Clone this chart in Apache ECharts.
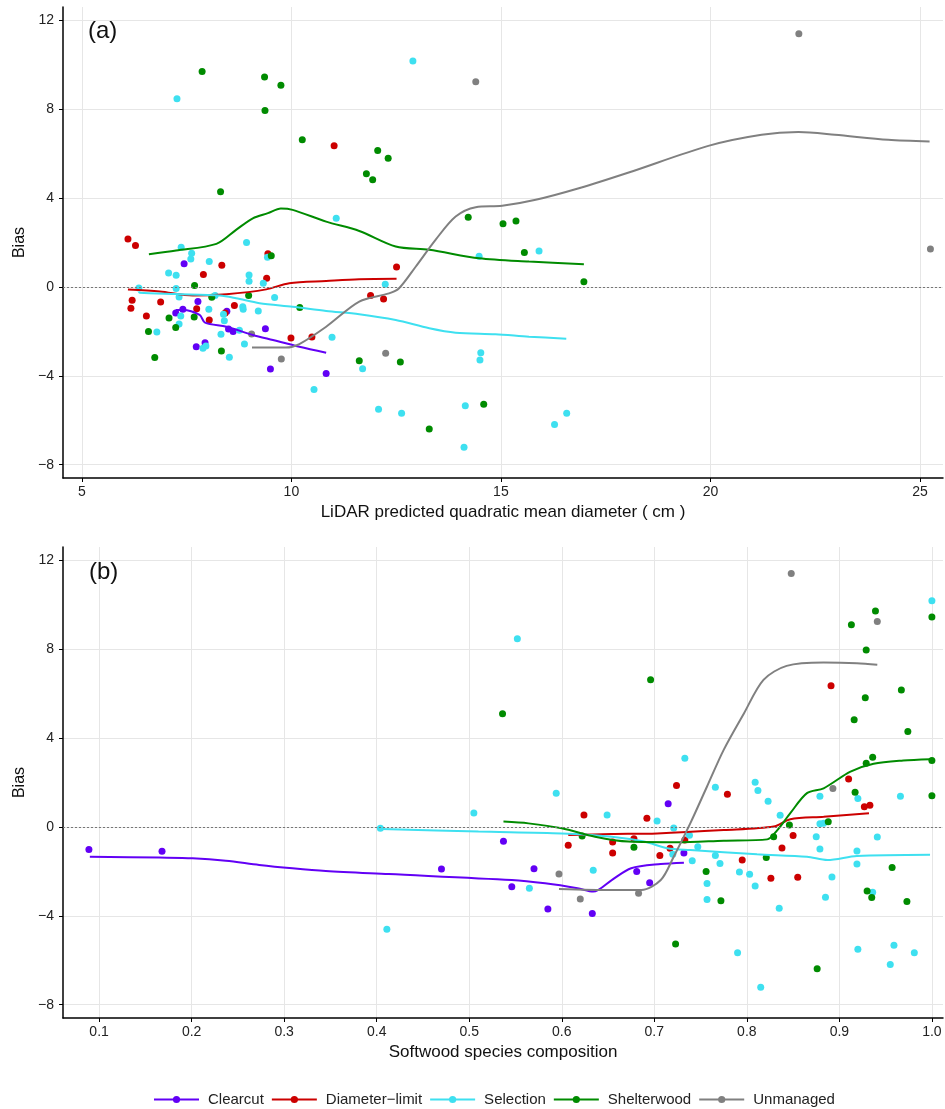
<!DOCTYPE html>
<html>
<head>
<meta charset="utf-8">
<script src="https://cdn.jsdelivr.net/npm/echarts@6/dist/echarts.min.js"></script>
<style>
  html, body { margin: 0; padding: 0; background: #fff; }
  #chart { width: 945px; height: 1109px; }
</style>
</head>
<body>
<div id="chart"></div>
<script>
// groups and colours
const groups = ["Clearcut", "Diameter\u2212limit", "Selection", "Shelterwood", "Unmanaged"];
const colors = ["#6200f5", "#cc0000", "#3ee0f0", "#008b00", "#808080"];

// tick values
const aTicksX = [5, 10, 15, 20, 25];
const bTicksX = [0.1, 0.2, 0.3, 0.4, 0.5, 0.6, 0.7, 0.8, 0.9, 1.0];
const ticksY = [-8, -4, 0, 4, 8, 12];

// (a) points: [LiDAR QMD, bias]
const aClearcut = [[7.44,1.04],[7.77,-0.65],[7.24,-1.17],[7.41,-1.01],[8.46,-1.10],[8.50,-1.89],[8.61,-2.01],[9.38,-1.88],[7.94,-2.51],[7.73,-2.69],[9.50,-3.69],[10.83,-3.90]];
const aDiameter = [[6.10,2.16],[6.28,1.86],[9.44,1.49],[8.34,0.98],[7.90,0.56],[9.41,0.39],[6.20,-0.60],[6.17,-0.96],[6.88,-0.68],[6.54,-1.31],[7.74,-0.98],[8.64,-0.84],[8.42,-1.17],[8.04,-1.49],[9.99,-2.30],[10.49,-2.25],[11.02,6.35],[12.51,0.90],[11.89,-0.39],[12.20,-0.54]];
const aSelection = [[7.27,8.47],[11.07,3.09],[8.93,2.00],[7.37,1.79],[7.62,1.52],[7.60,1.26],[8.04,1.14],[7.07,0.63],[7.25,0.53],[8.99,0.54],[8.99,0.26],[9.33,0.17],[6.36,-0.05],[7.25,-0.07],[7.32,-0.45],[8.18,-0.38],[9.60,-0.47],[8.84,-0.89],[8.85,-1.01],[8.03,-1.01],[9.21,-1.08],[7.36,-1.31],[8.38,-1.23],[8.40,-1.52],[7.32,-1.67],[6.79,-2.03],[8.32,-2.13],[8.76,-1.95],[8.88,-2.57],[7.96,-2.66],[7.89,-2.76],[8.52,-3.17],[10.97,-2.27],[10.54,-4.62],[9.43,1.34],[12.90,10.17],[14.48,1.38],[15.91,1.62],[12.24,0.12],[11.70,-3.68],[14.52,-2.96],[14.50,-3.29],[12.08,-5.51],[12.63,-5.68],[14.15,-5.35],[14.12,-7.22],[16.28,-6.19],[16.57,-5.68]];
const aShelterwood = [[7.87,9.70],[9.36,9.45],[9.75,9.08],[9.37,7.94],[10.26,6.62],[8.31,4.28],[12.06,6.14],[12.31,5.79],[11.79,5.10],[11.94,4.82],[14.22,3.14],[15.05,2.84],[15.36,2.97],[15.56,1.55],[16.98,0.23],[11.62,-3.32],[12.60,-3.38],[14.59,-5.28],[13.29,-6.40],[9.52,1.40],[7.69,0.07],[8.98,-0.39],[8.10,-0.46],[10.20,-0.93],[7.08,-1.40],[7.68,-1.35],[7.24,-1.83],[6.59,-2.01],[8.33,-2.88],[6.74,-3.18]];
const aUnmanaged = [[9.05,-2.12],[9.76,-3.24],[14.40,9.23],[12.25,-2.99],[22.11,11.40],[25.25,1.71]];

// (a) smoothed trends
const aClearcutFit = [[7.24,-1.04],[7.41,-1.04],[7.81,-1.26],[7.94,-1.61],[8.45,-1.79],[9.08,-2.16],[9.56,-2.39],[10.19,-2.69],[10.83,-2.96]];
const aDiameterFit = [[6.10,-0.12],[6.86,-0.21],[7.65,-0.39],[8.45,-0.33],[9.40,-0.11],[9.95,0.17],[10.83,0.27],[11.62,0.35],[12.51,0.37]];
const aSelectionFit = [[6.36,-0.21],[6.38,-0.26],[7.25,-0.32],[8.29,-0.39],[8.68,-0.51],[9.24,-0.73],[10.03,-0.89],[10.83,-1.08],[11.62,-1.23],[12.49,-1.49],[13.29,-1.86],[13.92,-2.06],[14.87,-2.13],[15.67,-2.24],[16.56,-2.33]];
const aShelterwoodFit = [[6.60,1.47],[7.25,1.64],[8.21,1.94],[8.68,2.57],[9.08,3.09],[9.44,3.32],[9.75,3.53],[10.03,3.47],[10.83,2.94],[11.62,2.52],[12.49,1.82],[13.29,1.67],[14.48,1.29],[15.67,1.14],[16.98,1.02]];
const aUnmanagedFit = [[9.06,-2.73],[9.87,-2.73],[10.19,-2.57],[10.83,-1.79],[11.62,-0.66],[12.33,-0.29],[12.57,-0.06],[12.97,0.92],[13.44,2.12],[13.92,3.17],[14.40,3.59],[15.03,3.65],[15.83,3.92],[16.86,4.44],[18.05,5.15],[19.95,6.35],[21.22,6.85],[22.10,6.97],[22.97,6.85],[24.24,6.62],[25.23,6.55]];

// (b) points: [softwood composition, bias]
const bClearcut = [[0.089,-1.02],[0.168,-1.10],[0.537,-0.64],[0.470,-1.89],[0.570,-1.88],[0.546,-2.69],[0.585,-3.69],[0.633,-3.90],[0.681,-2.01],[0.695,-2.51],[0.715,1.04],[0.732,-1.17]];
const bDiameter = [[0.624,0.54],[0.692,0.39],[0.724,1.86],[0.607,-0.83],[0.655,-0.68],[0.655,-1.17],[0.678,-0.53],[0.706,-1.29],[0.717,-0.96],[0.779,1.47],[0.891,6.35],[0.910,2.16],[0.927,0.91],[0.933,0.98],[0.850,-0.39],[0.838,-0.95],[0.733,-0.59],[0.795,-1.49],[0.826,-2.31],[0.855,-2.27]];
const bSelection = [[0.404,-0.06],[0.411,-4.61],[0.552,8.47],[0.594,1.52],[0.505,0.63],[0.649,0.54],[0.703,0.27],[0.721,-0.05],[0.634,-1.95],[0.565,-2.76],[0.720,-1.23],[1.0,10.18],[0.733,3.09],[0.766,1.79],[0.809,2.01],[0.812,1.64],[0.823,1.16],[0.879,1.38],[0.966,1.38],[0.920,1.28],[0.836,0.53],[0.879,0.14],[0.883,0.17],[0.738,-0.37],[0.875,-0.44],[0.941,-0.45],[0.747,-0.89],[0.879,-0.99],[0.919,-1.08],[0.766,-1.29],[0.741,-1.52],[0.771,-1.65],[0.919,-1.67],[0.792,-2.03],[0.803,-2.13],[0.757,-2.55],[0.809,-2.66],[0.892,-2.25],[0.757,-3.27],[0.885,-3.17],[0.835,-3.66],[0.936,-2.94],[0.790,-5.66],[0.920,-5.51],[0.959,-5.33],[0.981,-5.66],[0.955,-6.19],[0.815,-7.22]];
const bShelterwood = [[0.536,5.10],[0.696,6.62],[0.622,-0.41],[0.678,-0.92],[0.723,-5.27],[0.939,9.72],[0.913,9.10],[1.0,9.45],[0.929,7.96],[0.928,5.81],[0.967,6.16],[0.916,4.83],[0.974,4.29],[0.936,3.14],[0.929,2.87],[1.0,2.99],[0.917,1.56],[1.0,1.40],[0.888,0.23],[0.846,0.09],[0.829,-0.44],[0.821,-1.38],[0.756,-2.01],[0.772,-3.32],[0.957,-1.83],[0.930,-2.88],[0.935,-3.18],[0.973,-3.36],[0.876,-6.38]];
const bUnmanaged = [[0.597,-2.12],[0.620,-3.24],[0.683,-2.99],[0.848,11.41],[0.941,9.25],[0.893,1.73]];

// (b) smoothed trends
const bClearcutFit = [[0.090,-1.34],[0.165,-1.38],[0.201,-1.41],[0.237,-1.52],[0.273,-1.71],[0.309,-1.86],[0.345,-1.98],[0.413,-2.12],[0.546,-2.39],[0.582,-2.54],[0.617,-2.76],[0.634,-2.91],[0.654,-2.39],[0.675,-1.86],[0.707,-1.67],[0.732,-1.61]];
const bDiameterFit = [[0.607,-0.36],[0.654,-0.32],[0.703,-0.29],[0.775,-0.14],[0.829,0.02],[0.847,0.35],[0.883,0.46],[0.932,0.62]];
const bSelectionFit = [[0.405,-0.09],[0.510,-0.21],[0.600,-0.29],[0.654,-0.44],[0.689,-0.66],[0.714,-0.96],[0.739,-1.04],[0.811,-1.23],[0.865,-1.34],[0.887,-1.49],[0.919,-1.31],[0.998,-1.25]];
const bShelterwoodFit = [[0.537,0.24],[0.564,0.16],[0.600,-0.06],[0.636,-0.44],[0.672,-0.66],[0.725,-0.69],[0.775,-0.62],[0.822,-0.56],[0.833,-0.14],[0.847,0.62],[0.865,1.52],[0.883,1.74],[0.912,2.49],[0.937,2.84],[0.969,2.99],[0.998,3.05]];
const bUnmanagedFit = [[0.597,-2.79],[0.654,-2.84],[0.686,-2.84],[0.707,-2.39],[0.721,-1.34],[0.739,0.17],[0.757,1.82],[0.775,3.47],[0.797,5.12],[0.818,6.62],[0.843,7.25],[0.883,7.40],[0.919,7.37],[0.941,7.30]];

const aPoints = [aClearcut, aDiameter, aSelection, aShelterwood, aUnmanaged];
const aFits = [aClearcutFit, aDiameterFit, aSelectionFit, aShelterwoodFit, aUnmanagedFit];
const bPoints = [bClearcut, bDiameter, bSelection, bShelterwood, bUnmanaged];
const bFits = [bClearcutFit, bDiameterFit, bSelectionFit, bShelterwoodFit, bUnmanagedFit];

const font = "'Liberation Sans', Arial, sans-serif";
const minus = (v) => String(v).replace("-", "\u2212");

function xAxisFor(idx, min, max, ticks, name, fmt) {
  return {
    type: "value", gridIndex: idx, min: min, max: max,
    name: name, nameLocation: "middle", nameGap: 26,
    nameTextStyle: { fontFamily: font, fontSize: 17, color: "#111" },
    axisLine: { show: true, onZero: false, lineStyle: { color: "#000", width: 1.5 } },
    axisTick: { show: true, length: 4, customValues: ticks, lineStyle: { color: "#000" } },
    axisLabel: { customValues: ticks, formatter: fmt, margin: 7, fontFamily: font, fontSize: 14, color: "#222" },
    splitLine: { show: true, lineStyle: { color: "#e6e6e6", width: 1 } },
  };
}

function yAxisFor(idx) {
  return {
    type: "value", gridIndex: idx, min: -8.6, max: 12.6,
    name: "Bias", nameLocation: "middle", nameGap: 34, nameRotate: 90,
    nameTextStyle: { fontFamily: font, fontSize: 16, color: "#111" },
    axisLine: { show: true, onZero: false, lineStyle: { color: "#000", width: 1.5 } },
    axisTick: { show: true, length: 4, customValues: ticksY, lineStyle: { color: "#000" } },
    axisLabel: { customValues: ticksY, formatter: minus, margin: 9, fontFamily: font, fontSize: 14, color: "#222" },
    splitLine: { show: true, lineStyle: { color: "#e6e6e6", width: 1 } },
  };
}

const series = [];
function addPanel(idx, points, fits) {
  groups.forEach((g, i) => {
    const s = {
      name: g + " points", type: "scatter", xAxisIndex: idx, yAxisIndex: idx,
      data: points[i], symbolSize: 7, itemStyle: { color: colors[i], opacity: 1 },
      silent: true, z: 2,
    };
    if (i === 0) {
      s.markLine = {
        silent: true, symbol: ["none", "none"], label: { show: false },
        lineStyle: { type: [2, 2], color: "#777", width: 1 },
        emphasis: { disabled: true },
        data: [{ yAxis: 0 }],
      };
    }
    series.push(s);
  });
  groups.forEach((g, i) => {
    series.push({
      name: g, type: "line", xAxisIndex: idx, yAxisIndex: idx,
      data: fits[i], smooth: 0.3, symbol: "circle", symbolSize: 8, showSymbol: false,
      lineStyle: { color: colors[i], width: 2 }, itemStyle: { color: colors[i] },
      silent: true, z: 3,
    });
  });
}
addPanel(0, aPoints, aFits);
addPanel(1, bPoints, bFits);

const chart = echarts.init(document.getElementById("chart"), null, { renderer: "canvas" });
chart.setOption({
  animation: false,
  backgroundColor: "#fff",
  grid: [
    { left: 63, right: 2, top: 7, height: 471 },
    { left: 63, right: 2, top: 547, height: 471 },
  ],
  xAxis: [
    xAxisFor(0, 4.55, 25.55, aTicksX, "LiDAR predicted quadratic mean diameter ( cm )", (v) => String(v)),
    xAxisFor(1, 0.061, 1.012, bTicksX, "Softwood species composition", (v) => v.toFixed(1)),
  ],
  yAxis: [yAxisFor(0), yAxisFor(1)],
  legend: {
    data: groups, left: 148, top: 1087, itemWidth: 45, itemHeight: 9, itemGap: 7,
    textStyle: { fontFamily: font, fontSize: 15, color: "#222", padding: [0, 0, 0, 4] },
  },
  graphic: [
    { type: "text", left: 88, top: 19, z: 100, style: { text: "(a)", fontFamily: font, fontSize: 24, fill: "#111" } },
    { type: "text", left: 89, top: 560, z: 100, style: { text: "(b)", fontFamily: font, fontSize: 24, fill: "#111" } },
  ],
  series: series,
});
</script>
</body>
</html>
